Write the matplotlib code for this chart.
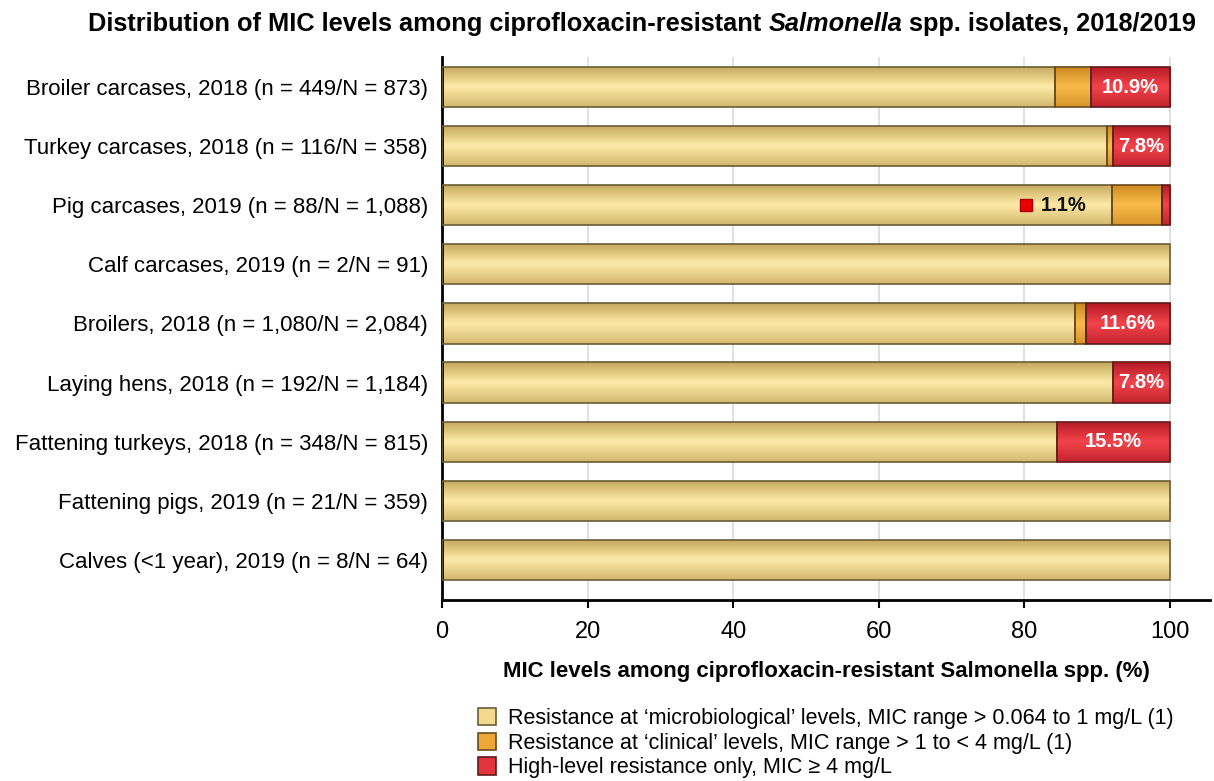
import matplotlib
matplotlib.use('Agg')
import matplotlib.pyplot as plt
import numpy as np
from matplotlib.colors import LinearSegmentedColormap
from matplotlib.patches import Patch

plt.rcParams['font.family'] = ['Liberation Sans', 'DejaVu Sans']

categories = [
    'Broiler carcases, 2018 (n = 449/N = 873)',
    'Turkey carcases, 2018 (n = 116/N = 358)',
    'Pig carcases, 2019 (n = 88/N = 1,088)',
    'Calf carcases, 2019 (n = 2/N = 91)',
    'Broilers, 2018 (n = 1,080/N = 2,084)',
    'Laying hens, 2018 (n = 192/N = 1,184)',
    'Fattening turkeys, 2018 (n = 348/N = 815)',
    'Fattening pigs, 2019 (n = 21/N = 359)',
    'Calves (<1 year), 2019 (n = 8/N = 64)',
]
micro = [84.2, 91.4, 92.0, 100.0, 86.9, 92.2, 84.5, 100.0, 100.0]
clinical = [4.9, 0.8, 6.9, 0.0, 1.5, 0.0, 0.0, 0.0, 0.0]
high = [10.9, 7.8, 1.1, 0.0, 11.6, 7.8, 15.5, 0.0, 0.0]
high_labels = ['10.9%', '7.8%', '1.1%', '', '11.6%', '7.8%', '15.5%', '', '']

legend_labels = [
    'Resistance at \u2018microbiological\u2019 levels, MIC range > 0.064 to 1 mg/L (1)',
    'Resistance at \u2018clinical\u2019 levels, MIC range > 1 to < 4 mg/L (1)',
    'High-level resistance only, MIC \u2265 4 mg/L',
]

# (dark, light, base, edge) per series
shades = [
    ('#c4a85c', '#fde9a6', '#f3d98e', '#6b5c34'),
    ('#cc8820', '#f9ba4a', '#eea83a', '#6b4a1c'),
    ('#b41a24', '#f2434b', '#e2343c', '#5e1a1a'),
]

fig = plt.figure(figsize=(12.14, 7.81), dpi=100)
ax = fig.add_axes([442 / 1214, 1 - 600 / 781, (1210 - 442) / 1214, (600 - 57) / 781])

y = np.arange(len(categories))
h = 0.68
lefts = np.zeros(len(categories))
grad = np.concatenate([np.linspace(0, 1, 40), np.linspace(1, 0.25, 40)]).reshape(-1, 1)

for vals, (dark, light, base, edge) in zip([micro, clinical, high], shades):
    vals = np.array(vals)
    cmap = LinearSegmentedColormap.from_list('g', [dark, light])
    bars = ax.barh(y, vals, left=lefts, height=h, color=base, edgecolor='none', zorder=2)
    for b, v in zip(bars, vals):
        if v <= 0:
            continue
        x0, y0 = b.get_x(), b.get_y()
        im = ax.imshow(grad, extent=[x0, x0 + b.get_width(), y0 + h, y0], origin='upper',
                       cmap=cmap, vmin=0, vmax=1, aspect='auto', zorder=2.1,
                       interpolation='bilinear')
        im.set_clip_path(b)
    ax.barh(y, np.where(vals > 0, vals, np.nan), left=lefts, height=h, fill=False,
            edgecolor=edge, linewidth=1.2, zorder=3)
    lefts = lefts + vals

# labels in the red segments
for i, lab in enumerate(high_labels):
    if not lab:
        continue
    if high[i] >= 5:
        ax.text(100 - high[i] / 2, i, lab, ha='center', va='center', color='white',
                fontsize=14.5, fontweight='bold', zorder=4)
    else:
        ax.text(micro[i] - 3.4, i, lab, ha='right', va='center', color='#111111',
                fontsize=14.5, fontweight='bold', zorder=4)
        ax.plot(micro[i] - 11.8, i, marker='s', ms=9, color='#ee0000',
                markeredgecolor='#aa0000', zorder=4)

ax.set_xlim(0, 105.5)
ax.set_ylim(len(categories) - 1 + 0.68, -0.51)
ax.set_yticks(y)
ax.set_yticklabels(categories, fontsize=16)
ax.set_xticks([0, 20, 40, 60, 80, 100])
ax.tick_params(axis='x', labelsize=17, length=6, width=1.5, pad=9)
ax.tick_params(axis='y', length=0, pad=10)
ax.grid(axis='x', color='#dcdcdc', linewidth=1.2)
ax.set_axisbelow(True)
for s in ['top', 'right']:
    ax.spines[s].set_visible(False)
for s in ['left', 'bottom']:
    ax.spines[s].set_linewidth(2)
ax.set_xlabel('MIC levels among ciprofloxacin-resistant Salmonella spp. (%)',
              fontsize=16, fontweight='bold', labelpad=13)

# title with italic genus name
t1 = fig.text(88 / 1214, 1 - 36 / 781, 'Distribution of MIC levels among ciprofloxacin-resistant ',
              fontsize=18.3, fontweight='bold', va='bottom')
t2 = ax.annotate('Salmonella', xy=(1, 0), xycoords=t1, va='bottom', ha='left',
                 fontsize=18.3, fontweight='bold', fontstyle='italic', annotation_clip=False)
ax.annotate(' spp. isolates, 2018/2019', xy=(1, 0), xycoords=t2, va='bottom', ha='left',
            fontsize=18.3, fontweight='bold', annotation_clip=False)

handles = [Patch(facecolor=s[2], edgecolor=s[3], linewidth=1.2) for s in shades]
fig.legend(handles, legend_labels, loc='upper left', bbox_to_anchor=(478 / 1214, 1 - 708 / 781),
           frameon=False, fontsize=15.5, handlelength=0.85, handleheight=0.85,
           labelspacing=0.17, handletextpad=0.55, borderaxespad=0, borderpad=0)

fig.savefig('out.png', dpi=100)
